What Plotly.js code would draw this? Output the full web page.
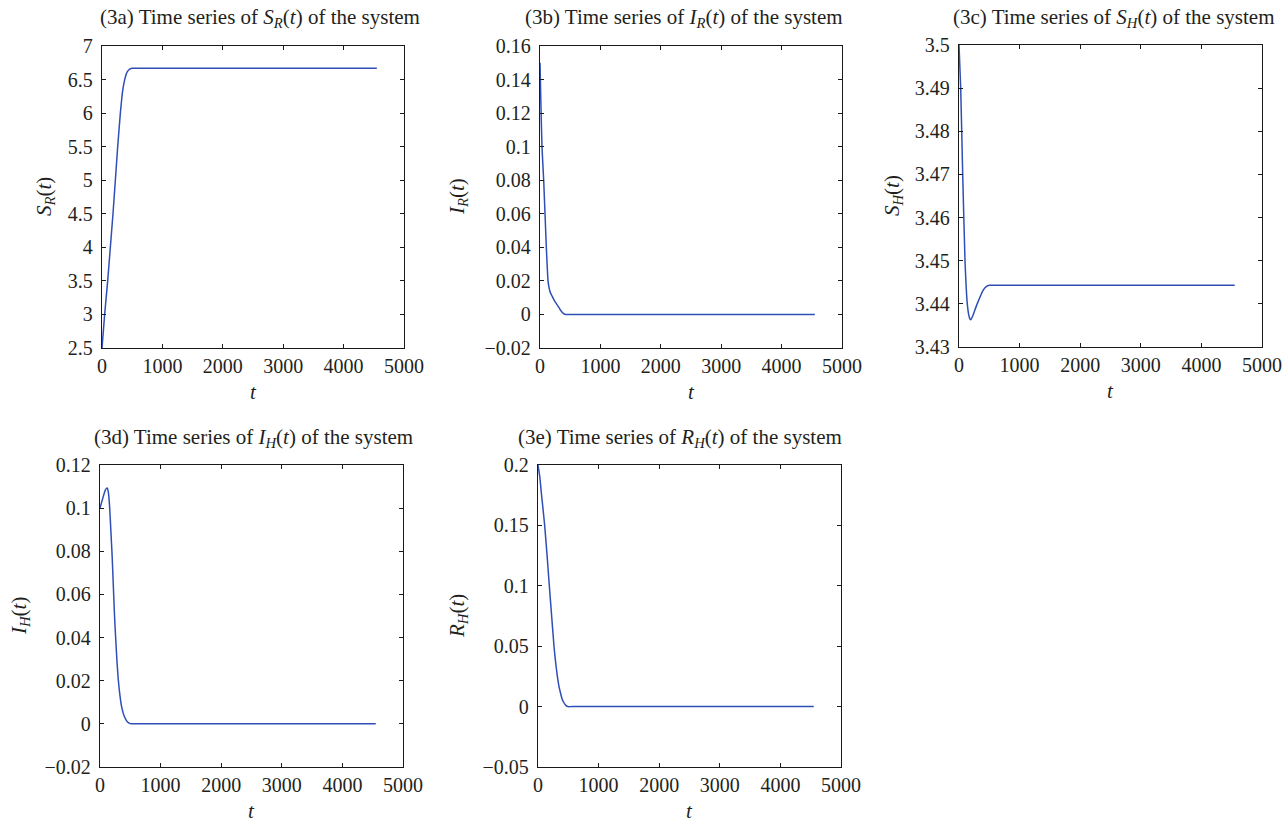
<!DOCTYPE html>
<html>
<head>
<meta charset="utf-8">
<script src="https://cdn.plot.ly/plotly-3.0.1.min.js"></script>
<style>html,body{margin:0;padding:0;background:#fff;}#chart{width:1285px;height:826px;}</style>
</head>
<body>
<div id="chart"></div>
<script>
// ---- Data ----
const tSR = [0, 44, 94, 138, 182, 221, 260, 304, 343, 376, 415, 450, 498, 560, 700, 1000, 2500, 4550];
const SR  = [2.5, 3.0, 3.5, 4.0, 4.5, 5.0, 5.5, 6.0, 6.34, 6.5, 6.61, 6.65, 6.667, 6.667, 6.667, 6.667, 6.667, 6.667];

const tIR = [0, 15, 33, 61, 83, 105, 133, 150, 171, 200, 227, 260, 298, 340, 380, 420, 480, 600, 1000, 2500, 4550];
const IR  = [0.15, 0.125, 0.1, 0.08, 0.06, 0.04, 0.02, 0.016, 0.013, 0.011, 0.009, 0.007, 0.005, 0.0025, 0.0008, 0, 0, 0, 0, 0, 0];

const tSH = [0, 28, 61, 99, 120, 137, 160, 180, 195, 220, 300, 400, 450, 500, 560, 700, 1000, 2500, 4550];
const SH  = [3.5, 3.49, 3.47, 3.45, 3.4435, 3.44, 3.4375, 3.4365, 3.4363, 3.437, 3.44, 3.4432, 3.444, 3.4443, 3.4443, 3.4443, 3.4443, 3.4443, 3.4443];

const tIH = [0, 30, 60, 90, 120, 140, 160, 180, 200, 220, 240, 260, 280, 300, 330, 360, 400, 450, 500, 560, 700, 1000, 2500, 4550];
const IH  = [0.1, 0.103, 0.106, 0.1085, 0.1093, 0.107, 0.1, 0.089, 0.078, 0.064, 0.05, 0.039, 0.029, 0.021, 0.013, 0.0075, 0.0035, 0.001, 0.0001, 0, 0, 0, 0, 0];

const tRH = [0, 30, 55, 80, 110, 150, 187, 225, 264, 290, 318, 345, 368, 395, 423, 460, 494, 560, 700, 1000, 2500, 4550];
const RH  = [0.2, 0.19, 0.177, 0.165, 0.15, 0.125, 0.1, 0.075, 0.05, 0.037, 0.0256, 0.017, 0.012, 0.0068, 0.0036, 0.001, 0, 0, 0, 0, 0, 0];

const xTicks = [0, 1000, 2000, 3000, 4000, 5000];
const xTickText = ['0', '1000', '2000', '3000', '4000', '5000'];

const yTicksSR = [2.5, 3, 3.5, 4, 4.5, 5, 5.5, 6, 6.5, 7];
const yTextSR  = ['2.5', '3', '3.5', '4', '4.5', '5', '5.5', '6', '6.5', '7'];
const yTicksIR = [-0.02, 0, 0.02, 0.04, 0.06, 0.08, 0.1, 0.12, 0.14, 0.16];
const yTextIR  = ['\u22120.02', '0', '0.02', '0.04', '0.06', '0.08', '0.1', '0.12', '0.14', '0.16'];
const yTicksSH = [3.43, 3.44, 3.45, 3.46, 3.47, 3.48, 3.49, 3.5];
const yTextSH  = ['3.43', '3.44', '3.45', '3.46', '3.47', '3.48', '3.49', '3.5'];
const yTicksIH = [-0.02, 0, 0.02, 0.04, 0.06, 0.08, 0.1, 0.12];
const yTextIH  = ['\u22120.02', '0', '0.02', '0.04', '0.06', '0.08', '0.1', '0.12'];
const yTicksRH = [-0.05, 0, 0.05, 0.1, 0.15, 0.2];
const yTextRH  = ['\u22120.05', '0', '0.05', '0.1', '0.15', '0.2'];

const panelTitles = [
  '(3a) Time series of <i>S</i><sub><i>R</i></sub>(<i>t</i>) of the system',
  '(3b) Time series of <i>I</i><sub><i>R</i></sub>(<i>t</i>) of the system',
  '(3c) Time series of <i>S</i><sub><i>H</i></sub>(<i>t</i>) of the system',
  '(3d) Time series of <i>I</i><sub><i>H</i></sub>(<i>t</i>) of the system',
  '(3e) Time series of <i>R</i><sub><i>H</i></sub>(<i>t</i>) of the system'
];
const yTitles = [
  '<i>S</i><sub><i>R</i></sub>(<i>t</i>)',
  '<i>I</i><sub><i>R</i></sub>(<i>t</i>)',
  '<i>S</i><sub><i>H</i></sub>(<i>t</i>)',
  '<i>I</i><sub><i>H</i></sub>(<i>t</i>)',
  '<i>R</i><sub><i>H</i></sub>(<i>t</i>)'
];
const xTitle = '<i>t</i>';

// ---- Layout geometry (pixels) ----
const W = 1285, H = 826;
const panels = [
  {l: 102, r: 404,  t: 46,  b: 348, yr: [2.5, 7],      tv: yTicksSR, tt: yTextSR, tx: 259.5,  ty: 18,  yx: 45},
  {l: 540, r: 842,  t: 46,  b: 348, yr: [-0.02, 0.16], tv: yTicksIR, tt: yTextIR, tx: 684.3,  ty: 18,  yx: 458},
  {l: 959, r: 1262, t: 45,  b: 347, yr: [3.43, 3.5],   tv: yTicksSH, tt: yTextSH, tx: 1113.8, ty: 18,  yx: 893},
  {l: 100, r: 403,  t: 465, b: 767, yr: [-0.02, 0.12], tv: yTicksIH, tt: yTextIH, tx: 253.7,  ty: 438, yx: 20},
  {l: 538, r: 841,  t: 465, b: 767, yr: [-0.05, 0.2],  tv: yTicksRH, tt: yTextRH, tx: 679.7,  ty: 438, yx: 458}
];
const series = [[tSR, SR], [tIR, IR], [tSH, SH], [tIH, IH], [tRH, RH]];

const FONT = 'Liberation Serif, Times New Roman, serif';
const TXT = '#231f20';
const LINE = '#2f4fb7';

const data = [];
const layout = {
  width: W, height: H,
  margin: {l: 0, r: 0, t: 0, b: 0, pad: 0},
  paper_bgcolor: '#ffffff', plot_bgcolor: '#ffffff',
  showlegend: false,
  font: {family: FONT, size: 20, color: TXT},
  annotations: []
};

panels.forEach((p, i) => {
  const n = i + 1;
  const xa = 'xaxis' + (n === 1 ? '' : n), ya = 'yaxis' + (n === 1 ? '' : n);
  const xr = 'x' + (n === 1 ? '' : n), yr = 'y' + (n === 1 ? '' : n);
  data.push({
    type: 'scatter', mode: 'lines', x: series[i][0], y: series[i][1],
    xaxis: xr, yaxis: yr,
    line: {color: LINE, width: 1.5, shape: 'spline', smoothing: 0.5},
    hoverinfo: 'skip'
  });
  const common = {
    showgrid: false, zeroline: false, showline: true, linecolor: '#1a1a1a', linewidth: 1.2,
    mirror: 'ticks', ticks: 'inside', ticklen: 4, tickwidth: 1, tickcolor: '#1a1a1a',
    tickfont: {family: FONT, size: 20, color: TXT}, fixedrange: true
  };
  layout[xa] = Object.assign({}, common, {
    domain: [p.l / W, p.r / W], range: [0, 5000], anchor: yr,
    tickmode: 'array', tickvals: xTicks, ticktext: xTickText, ticklabelstandoff: 0
  });
  layout[ya] = Object.assign({}, common, {
    domain: [1 - p.b / H, 1 - p.t / H], range: p.yr, anchor: xr,
    tickmode: 'array', tickvals: p.tv, ticktext: p.tt, ticklabelstandoff: 4
  });
  layout.annotations.push({
    xref: 'paper', yref: 'paper', x: p.tx / W, y: 1 - p.ty / H,
    xanchor: 'center', yanchor: 'middle', showarrow: false,
    text: panelTitles[i], font: {family: FONT, size: 21, color: TXT}
  });
  layout.annotations.push({
    xref: 'paper', yref: 'paper', x: p.yx / W, y: 1 - ((p.t + p.b) / 2) / H,
    xanchor: 'center', yanchor: 'middle', showarrow: false, textangle: -90,
    text: yTitles[i], font: {family: FONT, size: 21, color: TXT}
  });
  layout.annotations.push({
    xref: 'paper', yref: 'paper', x: ((p.l + p.r) / 2) / W, y: 1 - (p.b + 44) / H,
    xanchor: 'center', yanchor: 'middle', showarrow: false,
    text: xTitle, font: {family: FONT, size: 21, color: TXT}
  });
});

Plotly.newPlot('chart', data, layout, {staticPlot: true, displayModeBar: false});
</script>
</body>
</html>
